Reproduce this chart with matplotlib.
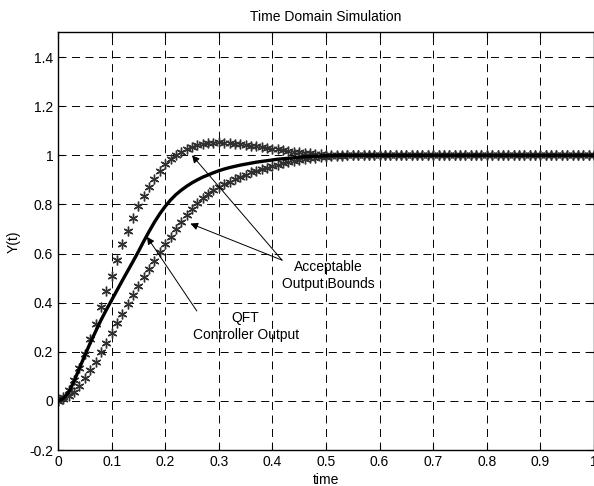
import numpy as np
import matplotlib
matplotlib.use("Agg")
import matplotlib.pyplot as plt

plt.rcParams['font.family'] = ['Liberation Sans', 'DejaVu Sans']

# time samples of the step responses
t = np.round(np.arange(0, 1.0001, 0.01), 2)

# upper acceptable bound (with overshoot)
upper_head = [0.0, 0.015, 0.045, 0.085, 0.135, 0.19, 0.25, 0.315, 0.383, 0.446,
              0.51, 0.573, 0.637, 0.69, 0.745, 0.793, 0.834, 0.872, 0.902, 0.936,
              0.963, 0.986, 1.002, 1.015, 1.027, 1.035, 1.042, 1.047, 1.05, 1.052,
              1.053, 1.052, 1.05, 1.048, 1.045, 1.042, 1.039, 1.036, 1.033, 1.03,
              1.027, 1.024, 1.021, 1.018, 1.015, 1.013, 1.01, 1.008, 1.006, 1.004,
              1.003, 1.002, 1.001]
# lower acceptable bound (slow, monotone)
lower_head = [0.0, 0.007, 0.02, 0.038, 0.061, 0.092, 0.126, 0.16, 0.198, 0.235,
              0.278, 0.316, 0.355, 0.395, 0.433, 0.469, 0.503, 0.539, 0.571, 0.605,
              0.637, 0.668, 0.698, 0.728, 0.755, 0.782, 0.805, 0.825, 0.843, 0.857,
              0.87, 0.882, 0.893, 0.903, 0.912, 0.921, 0.93, 0.937, 0.944, 0.95,
              0.956, 0.962, 0.967, 0.972, 0.977, 0.981, 0.985, 0.988, 0.991, 0.993,
              0.995, 0.997, 0.998, 0.999]
# QFT controller response
qft_head = [0.0, 0.01, 0.035, 0.08, 0.133, 0.185, 0.235, 0.282, 0.328, 0.37,
            0.41, 0.45, 0.49, 0.529, 0.568, 0.608, 0.65, 0.69, 0.728, 0.762,
            0.792, 0.818, 0.84, 0.858, 0.874, 0.888, 0.9, 0.911, 0.92, 0.929,
            0.937, 0.944, 0.95, 0.955, 0.96, 0.964, 0.968, 0.972, 0.975, 0.978,
            0.981, 0.984, 0.986, 0.988, 0.99, 0.992, 0.994, 0.995, 0.996, 0.997,
            0.998, 0.999]

def settle(head):
    return np.array(head + [1.0] * (len(t) - len(head)))

upper = settle(upper_head)
lower = settle(lower_head)
qft = settle(qft_head)

xticks = [0, 0.1, 0.2, 0.3, 0.4, 0.5, 0.6, 0.7, 0.8, 0.9, 1]
xticklabels = ['0', '0.1', '0.2', '0.3', '0.4', '0.5', '0.6', '0.7', '0.8', '0.9', '1']
yticks = [-0.2, 0, 0.2, 0.4, 0.6, 0.8, 1, 1.2, 1.4]
yticklabels = ['-0.2', '0', '0.2', '0.4', '0.6', '0.8', '1', '1.2', '1.4']

FS = 10

fig = plt.figure(figsize=(5.94, 4.86), dpi=100)
ax = fig.add_axes([58 / 594, 36 / 486, 536 / 594, 417.5 / 486])

star = (6, 2, 0)
ax.plot(t, upper, linestyle='none', marker=star, markersize=7,
        markeredgewidth=1.0, color='#303030')
ax.plot(t, lower, linestyle='none', marker=star, markersize=7,
        markeredgewidth=1.0, color='#303030')
ax.plot(t, qft, color='black', linewidth=2.4)

ax.set_xlim(0, 1)
ax.set_ylim(-0.2, 1.5)
ax.set_xticks(xticks)
ax.set_xticklabels(xticklabels)
ax.set_yticks(yticks)
ax.set_yticklabels(yticklabels)
ax.tick_params(direction='in', length=4, width=0.8, labelsize=FS,
               top=True, right=True, colors='black')
ax.grid(True, color='black', linestyle=(0, (8.2, 5.7)), linewidth=0.7)
for s in ax.spines.values():
    s.set_linewidth(1.0)

ax.set_title('Time Domain Simulation', fontsize=FS, pad=8)
ax.set_xlabel('time', fontsize=FS, labelpad=3)
ax.set_ylabel('Y(t)', fontsize=FS, labelpad=6)

arrow = dict(arrowstyle='-|>', color='black', linewidth=0.7,
             shrinkA=0, shrinkB=0, mutation_scale=11)
ax.annotate('', xy=(0.25, 1.0), xytext=(0.418, 0.573), arrowprops=arrow)
ax.annotate('', xy=(0.247, 0.722), xytext=(0.418, 0.573), arrowprops=arrow)
ax.annotate('', xy=(0.166, 0.668), xytext=(0.259, 0.366), arrowprops=arrow)

ax.text(0.504, 0.546, 'Acceptable', ha='center', va='center', fontsize=FS)
ax.text(0.505, 0.474, 'Output Bounds', ha='center', va='center', fontsize=FS)
ax.text(0.35, 0.337, 'QFT', ha='center', va='center', fontsize=FS)
ax.text(0.35, 0.268, 'Controller Output', ha='center', va='center', fontsize=FS)

fig.savefig('out.png', dpi=100)
